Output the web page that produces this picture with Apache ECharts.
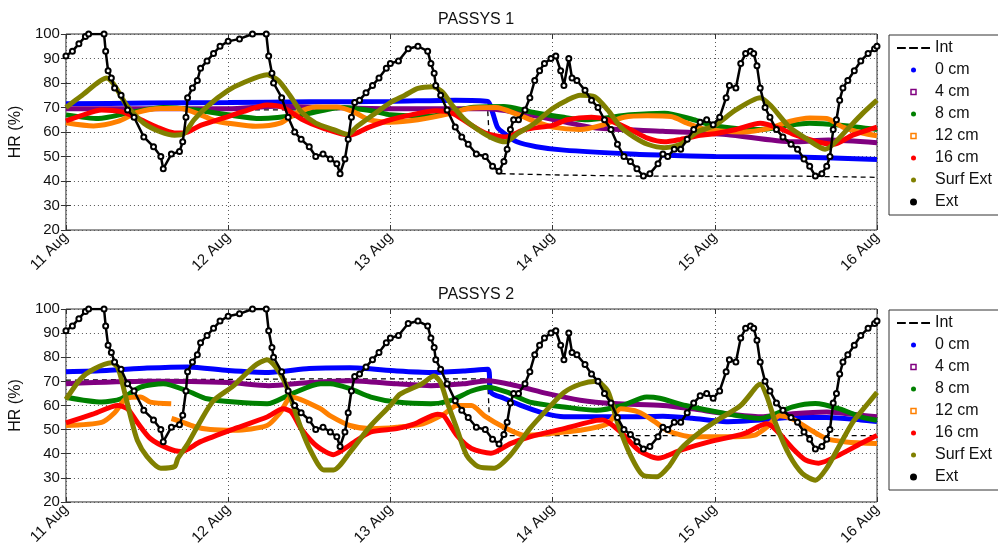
<!DOCTYPE html>
<html>
<head>
<meta charset="utf-8">
<script src="https://cdn.jsdelivr.net/npm/echarts@6/dist/echarts.min.js"></script>
<style>
  html, body { margin: 0; padding: 0; background: #fff; }
  #chart { width: 998px; height: 548px; }
</style>
</head>
<body>
<div id="chart"></div>
<script>
// x values are days since 11 Aug 00:00
const dayLabels = ['11 Aug', '12 Aug', '13 Aug', '14 Aug', '15 Aug', '16 Aug']
const panelTitles = ['PASSYS 1', 'PASSYS 2']
const seriesNames = ['Int', '0 cm', '4 cm', '8 cm', '12 cm', '16 cm', 'Surf Ext', 'Ext']

// exterior humidity (same sensor on both panels)
const extHR = [[0,91],[0.04,93],[0.08,96],[0.12,99],[0.14,100],[0.235,100],[0.245,93],[0.26,85],[0.28,82],[0.3,78],[0.34,75],[0.38,69],[0.42,66],[0.48,58],[0.54,54],[0.585,50],[0.6,45],[0.65,51],[0.7,52],[0.72,56],[0.74,66],[0.75,74],[0.78,78],[0.81,81],[0.83,86],[0.87,89],[0.91,92],[0.95,95],[1.0,97],[1.07,98],[1.15,100],[1.235,100],[1.25,91],[1.27,84],[1.28,80],[1.33,74],[1.37,66],[1.41,60],[1.45,57],[1.5,54],[1.54,50],[1.585,51],[1.63,49],[1.67,47],[1.69,43],[1.72,49],[1.74,57],[1.76,66],[1.78,72],[1.81,73],[1.85,76],[1.89,79],[1.93,82],[1.975,86],[2.0,88],[2.05,89],[2.11,94],[2.17,95],[2.23,93],[2.25,88],[2.27,84],[2.28,79],[2.31,75],[2.35,69],[2.4,62],[2.44,58],[2.48,55],[2.53,51],[2.585,50],[2.63,46],[2.67,44],[2.7,48],[2.72,53],[2.74,61],[2.76,65],[2.79,65],[2.83,69],[2.86,74],[2.89,81],[2.92,85],[2.95,88],[2.99,90],[3.02,91],[3.05,85],[3.07,79],[3.1,90],[3.12,82],[3.15,81],[3.2,77],[3.24,73],[3.28,70],[3.32,65],[3.36,61],[3.4,55],[3.44,50],[3.48,48],[3.52,45],[3.56,42],[3.6,43],[3.65,47],[3.68,51],[3.71,50],[3.75,53],[3.79,53],[3.83,57],[3.87,61],[3.91,64],[3.95,65],[3.99,63],[4.03,66],[4.07,74],[4.09,79],[4.13,78],[4.16,88],[4.19,92],[4.22,93],[4.24,92],[4.26,87],[4.28,78],[4.31,70],[4.34,66],[4.38,61],[4.42,58],[4.47,55],[4.51,53],[4.55,49],[4.585,46],[4.62,42],[4.66,43],[4.69,46],[4.71,50],[4.73,61],[4.75,65],[4.77,73],[4.79,78],[4.82,81],[4.86,85],[4.9,89],[4.945,92],[4.985,94],[5.0,95]]

// PASSYS 1
const p1Int = [[0,70],[0.5,69.5],[1,69],[1.5,69],[2,69.5],[2.3,69],[2.6,69],[2.61,57],[2.66,null],[2.68,43],[3,42.5],[3.5,42],[4,42],[4.5,42],[5,41.5]]
const p1Cm0 = [[0,71.5],[0.5,71.8],[1,72],[1.5,72.3],[2,72.5],[2.4,73],[2.6,72.5],[2.63,68],[2.66,62],[2.7,59.5],[2.78,56],[2.9,54],[3.07,52.6],[3.48,51],[3.7,50.5],[4,50],[4.5,49.8],[5,48.8]]
const p1Cm4 = [[0,69.5],[0.5,69.5],[1,69.5],[1.3,70.5],[1.6,70],[2,69.5],[2.3,69.5],[2.6,69.5],[2.86,67],[3.07,64.2],[3.27,61.6],[3.68,60.3],[4.07,59],[4.48,56],[4.7,56.7],[5,55.6]]
const p1Cm8 = [[0,67],[0.2,65.5],[0.4,68],[0.6,70],[0.8,69],[1,67],[1.2,65.5],[1.45,67],[1.7,70],[1.9,68.5],[2,67],[2.25,66.5],[2.5,70],[2.7,70.4],[2.86,68.3],[3.07,66],[3.2,65],[3.3,65.5],[3.48,67],[3.69,67.7],[3.87,65],[4,62.5],[4.28,61],[4.45,62.7],[4.585,63.6],[4.79,62.7],[5,61]]
const p1Cm12 = [[0,63.8],[0.17,62.5],[0.32,64.3],[0.44,68],[0.585,69.6],[0.71,69.6],[0.83,67],[0.93,64.3],[1,63.6],[1.17,62.3],[1.32,63.6],[1.42,67.7],[1.54,70.2],[1.67,70.2],[1.77,68.3],[1.87,65],[2,64],[2.17,65],[2.38,67.7],[2.48,69.6],[2.65,70],[2.79,67],[2.89,64.3],[3,62],[3.17,61],[3.3,62.7],[3.44,66],[3.585,66.6],[3.73,66.3],[3.83,63.6],[3.95,61],[4.17,60],[4.34,61.6],[4.46,64.3],[4.585,65.7],[4.69,65.5],[4.79,62],[4.91,59.6],[5,58.5]]
const p1Cm16 = [[0,64.5],[0.09,66.6],[0.22,69],[0.34,68.3],[0.44,65.7],[0.56,62],[0.67,59.6],[0.73,59.6],[0.83,62.7],[1,66.3],[1.09,68.3],[1.24,71],[1.34,70],[1.46,65],[1.585,61.6],[1.75,58.7],[1.87,62],[2,65],[2.13,67],[2.28,68.7],[2.38,67.7],[2.48,63.6],[2.585,59.6],[2.71,58],[2.83,61],[3,62.7],[3.09,65],[3.24,66],[3.34,65],[3.48,61],[3.585,57.5],[3.69,56],[3.79,57],[3.91,58.7],[4,59.3],[4.13,61],[4.28,63.6],[4.38,62],[4.5,58.7],[4.63,56],[4.73,55],[4.85,58.7],[5,62]]
const p1Surf = [[0,70],[0.1,75],[0.25,82],[0.38,70.4],[0.48,63.6],[0.585,60],[0.67,58.7],[0.73,59.5],[0.79,65],[0.87,70.4],[1,77],[1.09,80],[1.24,83.4],[1.31,81],[1.38,75],[1.45,68.3],[1.54,63.6],[1.65,61],[1.74,59],[1.79,62],[1.89,66.8],[2,72],[2.09,75],[2.17,77.8],[2.26,78.5],[2.32,76.4],[2.38,71],[2.46,65],[2.54,61],[2.63,57.5],[2.71,56],[2.79,59.6],[2.89,63.6],[3,69.6],[3.09,73],[3.17,75],[3.26,74.4],[3.34,69],[3.42,62],[3.5,58],[3.585,55],[3.69,53.6],[3.79,55],[3.89,60],[4,62.7],[4.13,69],[4.28,74],[4.35,70.4],[4.46,62],[4.56,57.5],[4.68,53],[4.73,55],[4.83,62],[4.91,67.5],[5,73]]

// PASSYS 2
const p2Int = [[0,70.5],[0.5,70.8],[1,70.8],[1.5,71],[2,71],[2.3,71],[2.6,71],[2.61,55],[2.66,null],[2.68,47.5],[3,47.5],[3.5,47.5],[4,47.5],[4.5,47.5],[5,47.5]]
const p2Cm0 = [[0,74],[0.25,74.5],[0.5,75.5],[0.75,76],[1,74.5],[1.25,73.7],[1.5,75.3],[1.75,75.6],[2.04,74.3],[2.25,73.7],[2.45,74.3],[2.6,75],[2.62,65.5],[2.7,63],[2.83,59.4],[2.95,56.7],[3.07,55.3],[3.5,55.3],[3.68,55.5],[3.86,54.7],[4.07,53.3],[4.28,54],[4.48,55],[4.69,55],[4.9,54],[5,53.3]]
const p2Cm4 = [[0,69],[0.5,70],[1,69.5],[1.25,68.2],[1.5,69.5],[1.75,70.3],[2.04,69],[2.25,68.2],[2.45,69],[2.6,70.3],[2.77,68.3],[2.97,64.9],[3.17,62.2],[3.38,60.8],[3.68,60],[3.86,58.6],[4.07,56.6],[4.28,55.3],[4.48,56.6],[4.69,57.3],[4.9,56],[5,55.3]]
const p2Cm8 = [[0,63.4],[0.22,61.4],[0.34,62.8],[0.46,67.6],[0.6,69],[0.75,66],[0.87,62.8],[1.04,61.4],[1.24,60.7],[1.39,64.8],[1.57,69],[1.63,69],[1.75,67],[1.88,63.5],[2.04,61.4],[2.25,60.7],[2.37,62],[2.5,66],[2.6,67.6],[2.72,65.5],[2.86,61.4],[3.07,59.4],[3.27,58],[3.43,60],[3.58,63.5],[3.66,63],[3.82,60],[4.07,56.6],[4.28,54.6],[4.48,59.4],[4.62,60.8],[4.77,58.6],[4.9,55.3],[5,53.9]]
const p2Cm12 = [[0,51.7],[0.22,53],[0.3,57],[0.37,62.8],[0.46,63.5],[0.52,61.4],[0.649,60.7],[0.65,null],[0.651,54.6],[0.71,53.3],[0.79,51.3],[0.89,50],[1.04,49.7],[1.24,51.7],[1.32,57],[1.39,63.5],[1.57,58.6],[1.63,55.7],[1.75,51.7],[1.88,50.4],[2.04,51],[2.2,52.4],[2.33,56.4],[2.41,60],[2.5,60],[2.58,55.7],[2.7,51],[2.83,47.6],[2.97,48.3],[3.17,49.7],[3.34,52.4],[3.42,58.6],[3.53,57.3],[3.63,53.3],[3.71,49.5],[3.86,47],[4.07,47],[4.24,47.6],[4.32,51],[4.4,55.7],[4.48,54.4],[4.58,50.3],[4.69,46.2],[4.81,44.9],[5,44.2]]
const p2Cm16 = [[0,52.8],[0.17,56.5],[0.32,60],[0.38,58.6],[0.44,53],[0.52,46.3],[0.63,42.2],[0.71,40.9],[0.83,45],[1.04,50.4],[1.24,55.2],[1.34,58.6],[1.39,57.3],[1.45,50.4],[1.55,43],[1.65,39.6],[1.75,43.6],[1.88,49],[2.04,50.4],[2.15,52.4],[2.29,56.4],[2.33,55.7],[2.41,47.6],[2.5,42.2],[2.62,40.2],[2.74,44.2],[2.86,47],[3.07,50.4],[3.27,53.8],[3.31,54],[3.42,49],[3.53,41.5],[3.65,38.1],[3.79,41.5],[3.97,45],[4.18,48.3],[4.32,52.4],[4.38,49.7],[4.48,42.2],[4.56,37.4],[4.64,36.1],[4.77,39.6],[4.9,44.2],[5,47.6]]
const p2Surf = [[0,62.5],[0.09,71],[0.17,75],[0.28,77.7],[0.32,75.7],[0.36,66],[0.4,55],[0.44,45.6],[0.5,38.8],[0.585,34],[0.67,34.7],[0.69,38],[0.75,44],[0.83,53.6],[0.91,62],[1.03,68],[1.16,76.3],[1.24,79],[1.34,71],[1.45,50.4],[1.51,41],[1.59,33.3],[1.65,33.3],[1.755,41],[1.88,51.7],[2,60],[2.06,64.7],[2.19,68.8],[2.27,72.2],[2.31,69.5],[2.35,61.4],[2.41,50.4],[2.47,39.4],[2.54,34.7],[2.64,34],[2.74,39.4],[2.86,50.4],[2.97,58.6],[3.07,65.4],[3.17,68.8],[3.27,70],[3.34,66],[3.4,53],[3.48,39.4],[3.56,31],[3.645,30.5],[3.72,35],[3.79,42],[3.91,49],[4.03,54.5],[4.16,60],[4.26,68],[4.28,68.8],[4.32,64],[4.38,51.7],[4.46,39.4],[4.54,31.8],[4.62,29],[4.69,34],[4.77,43.5],[4.85,53],[4.94,60.5],[5,65.4]]

const panels = [
  [p1Int, p1Cm0, p1Cm4, p1Cm8, p1Cm12, p1Cm16, p1Surf, extHR],
  [p2Int, p2Cm0, p2Cm4, p2Cm8, p2Cm12, p2Cm16, p2Surf, extHR],
]

const colors = ['#000000', '#0000ff', '#800080', '#008000', '#ff8000', '#ff0000', '#808000', '#000000']
const FONT = '"Liberation Sans", Arial, Helvetica, sans-serif'
const gridTops = [34, 309]
const gridHeights = [196, 195]

const chart = echarts.init(document.getElementById('chart'), null, { renderer: 'canvas' })

const grids = []
const xAxes = []
const yAxes = []
const titles = []
const legends = []
const series = []

gridTops.forEach((top, i) => {
  grids.push({
    left: 65, width: 812, top: top, height: gridHeights[i],
    show: true, borderColor: '#333', borderWidth: 1, backgroundColor: 'transparent',
  })
  titles.push({
    text: panelTitles[i], left: 471, top: top - 27, textAlign: 'center',
    textStyle: { fontFamily: FONT, fontSize: 16, fontWeight: 'normal', color: '#111' },
  })
  // bottom x axis with labels
  xAxes.push({
    type: 'value', gridIndex: i, min: 0, max: 5, interval: 1, position: 'bottom',
    axisLine: { show: false },
    axisTick: { show: true, inside: true, length: 5, lineStyle: { color: '#333' } },
    axisLabel: {
      rotate: 45, margin: 5, fontFamily: FONT, fontSize: 15, color: '#111',
      formatter: (v) => dayLabels[Math.round(v)] || '',
    },
    splitLine: { show: true, lineStyle: { color: '#555', width: 1, type: [1, 3] } },
  })
  // top x axis, ticks only
  xAxes.push({
    type: 'value', gridIndex: i, min: 0, max: 5, interval: 1, position: 'top',
    axisLine: { show: false }, axisLabel: { show: false }, splitLine: { show: false },
    axisTick: { show: true, inside: true, length: 5, lineStyle: { color: '#333' } },
  })
  yAxes.push({
    type: 'value', gridIndex: i, min: 20, max: 100, interval: 10, position: 'left',
    name: 'HR (%)', nameLocation: 'middle', nameGap: 40,
    nameTextStyle: { fontFamily: FONT, fontSize: 16, color: '#111' },
    axisLine: { show: false },
    axisTick: { show: true, inside: true, length: 5, lineStyle: { color: '#333' } },
    axisLabel: { margin: 6, fontFamily: FONT, fontSize: 15, color: '#111' },
    splitLine: { show: true, lineStyle: { color: '#555', width: 1, type: [1, 3] } },
  })
  yAxes.push({
    type: 'value', gridIndex: i, min: 20, max: 100, interval: 10, position: 'right',
    axisLine: { show: false }, axisLabel: { show: false }, splitLine: { show: false },
    axisTick: { show: true, inside: true, length: 5, lineStyle: { color: '#333' } },
  })

  legends.push({
    orient: 'vertical', left: 889, top: top + 1,
    padding: [5, 8], itemGap: 6, itemWidth: 33, itemHeight: 5,
    borderColor: '#333', borderWidth: 1, backgroundColor: '#fff',
    selectedMode: false,
    textStyle: { fontFamily: FONT, fontSize: 16, lineHeight: 16, color: '#111' },
    data: seriesNames.map((name, k) => {
      if (k === 0) {
        return { name, icon: 'path://M0,0H8V2H0Z M11,0H19V2H11Z M22,0H30V2H22Z', itemStyle: { color: '#000' } }
      }
      if (k === 2 || k === 4) {
        return { name, icon: 'path://M0,0H10V10H0Z', itemStyle: { color: '#fff', borderColor: colors[k], borderWidth: 1.5 } }
      }
      return { name, icon: 'circle', itemStyle: { color: colors[k] } }
    }),
  })

  panels[i].forEach((data, k) => {
    const s = {
      name: seriesNames[k], type: 'line', data: data,
      xAxisIndex: i * 2, yAxisIndex: i * 2,
      color: colors[k], animation: false, silent: true,
      emphasis: { disabled: true },
    }
    if (k === 0) {
      Object.assign(s, { showSymbol: false, lineStyle: { color: '#000', width: 1.3, type: [5, 4] } })
    } else if (k === 7) {
      Object.assign(s, {
        symbol: 'emptyCircle', symbolSize: 5, showAllSymbol: true,
        itemStyle: { color: '#000', borderColor: '#000', borderWidth: 1.2 },
        lineStyle: { color: '#000', width: 2.5 },
      })
    } else {
      Object.assign(s, {
        showSymbol: false, smooth: 0.25,
        lineStyle: { color: colors[k], width: 5 },
      })
    }
    series.push(s)
  })
})

chart.setOption({
  backgroundColor: '#fff',
  animation: false,
  title: titles,
  grid: grids,
  xAxis: xAxes,
  yAxis: yAxes,
  legend: legends,
  series: series,
})
</script>
</body>
</html>
